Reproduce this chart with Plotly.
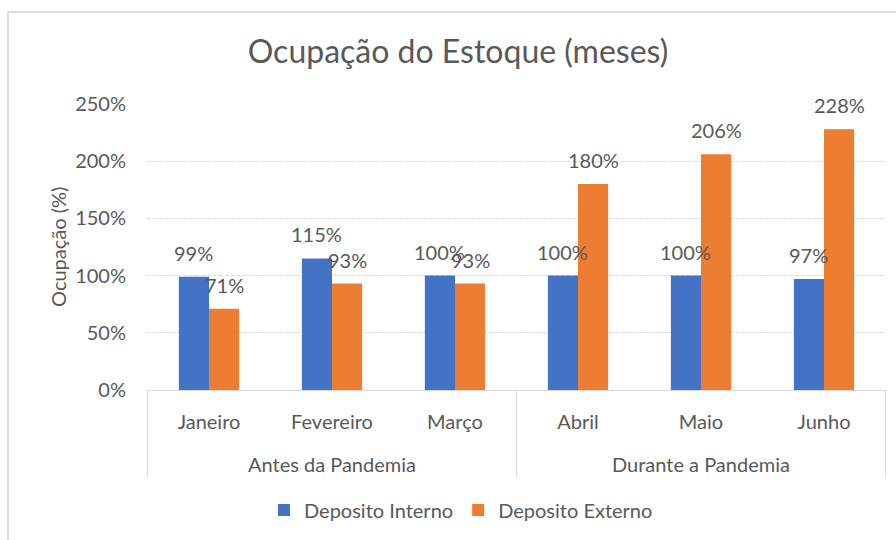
import plotly.graph_objects as go

group_names = ["Antes da Pandemia", "Durante a Pandemia"]
group_sizes = [3, 3]
months = ["Janeiro", "Fevereiro", "Março", "Abril", "Maio", "Junho"]
interno = [99, 115, 100, 100, 100, 97]
externo = [71, 93, 93, 180, 206, 228]
series_names = ["Deposito Interno", "Deposito Externo"]
colors = ["#4472C4", "#ED7D31"]
text_color = "#595959"
line_color = "#d9d9d9"
font_family = "Lato, 'Open Sans', sans-serif"

fig = go.Figure()
for name, vals, col in zip(series_names, [interno, externo], colors):
    fig.add_trace(go.Bar(x=months, y=vals, name=name, marker_color=col,
                         marker_line_width=0))

bargap = 0.51
half = (1 - bargap) / 4
annotations = []
for i in range(len(months)):
    for vals, off in ((interno, -half), (externo, half)):
        annotations.append(dict(
            x=i + off, y=vals[i], xref="x", yref="y", text=f"{vals[i]}%",
            showarrow=False, yanchor="middle", yshift=24,
            font=dict(size=20, color=text_color, family=font_family),
        ))

# group labels and dividers below the category axis
start = 0
shapes = []
bottom = -(478 - 390) / 286
shapes.append(dict(type="line", xref="x", yref="paper", x0=-0.5, x1=-0.5,
                   y0=0, y1=bottom, line=dict(color=line_color, width=1)))
for gname, size in zip(group_names, group_sizes):
    center = start + (size - 1) / 2
    annotations.append(dict(
        x=center, y=-(464 - 390) / 286, xref="x", yref="paper", text=gname,
        showarrow=False, xanchor="center", yanchor="middle",
        font=dict(size=20, color=text_color, family=font_family),
    ))
    end = start + size - 0.5
    shapes.append(dict(type="line", xref="x", yref="paper", x0=end, x1=end,
                       y0=0, y1=bottom, line=dict(color=line_color, width=1)))
    start += size

annotations.append(dict(
    x=(58 - 147) / 739, y=0.5, xref="paper", yref="paper", text="Ocupação (%)",
    textangle=-90, showarrow=False, xanchor="center", yanchor="middle",
    font=dict(size=20, color=text_color, family=font_family),
))

# outer chart frame
shapes.append(dict(type="rect", xref="paper", yref="paper",
                   x0=(8 - 147) / 739, x1=1.05, y0=-0.7, y1=(390 - 12) / 286,
                   line=dict(color="#d4d4d4", width=1.5), layer="below"))

fig.update_layout(
    width=896, height=540,
    margin=dict(l=147, r=10, t=104, b=150),
    paper_bgcolor="white", plot_bgcolor="white",
    barmode="group", bargap=bargap, bargroupgap=0,
    title=dict(text="Ocupação do Estoque (meses)", x=458 / 896, xanchor="center",
               y=1 - 52 / 540, yanchor="middle",
               font=dict(size=32, color=text_color, family=font_family)),
    font=dict(family=font_family, color=text_color, size=20),
    legend=dict(orientation="h", x=(461 - 147) / 739, xanchor="center",
                y=-(510 - 390) / 286, yanchor="middle",
                font=dict(size=20, color=text_color), traceorder="normal"),
    annotations=annotations,
    shapes=shapes,
    showlegend=True,
)
fig.update_yaxes(range=[0, 250], dtick=50, ticksuffix="%", showgrid=True,
                 gridcolor=line_color, griddash="4px,2px", zeroline=False,
                 tickfont=dict(size=20, color=text_color), ticks="",
                 ticklabelstandoff=20, showline=False)
fig.update_xaxes(type="category", showline=True, linecolor=line_color,
                 tickfont=dict(size=20, color=text_color), ticks="",
                 ticklabelstandoff=14)
fig.write_html("out.html", config={"displayModeBar": False},
               post_script="document.body.style.margin='0px';")
